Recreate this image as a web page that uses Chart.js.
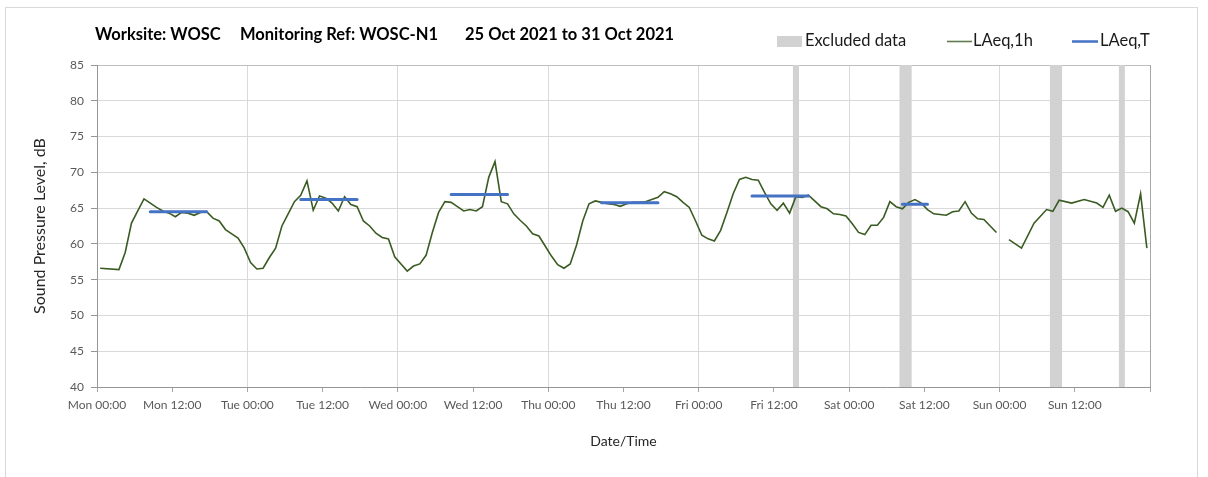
<!DOCTYPE html>
<html>
<head>
<meta charset="utf-8">
<title>WOSC-N1 noise monitoring</title>
<script src="https://cdn.jsdelivr.net/npm/chart.js@4.4.0/dist/chart.umd.min.js"></script>
<style>
  html, body { margin: 0; padding: 0; background: #fff; }
  canvas { display: block; }
</style>
</head>
<body>
<canvas id="noise" width="1208" height="477"></canvas>
<script>
// week starting Mon 25 Oct 2021, x values are hours from Mon 00:00
const dayNames = ['Mon', 'Tue', 'Wed', 'Thu', 'Fri', 'Sat', 'Sun'];

// hourly LAeq,1h (hour index, dB); null = no data for that hour
const hourIdx = [
  0, 3, 4, 5, 6, 7, 8, 9, 10, 11, 12, 13, 14, 15, 16, 17, 18, 19, 20, 21, 22, 23,
  24, 25, 26, 27, 28, 29, 30, 31, 32, 33, 34, 35, 36, 37, 38, 39, 40, 41, 42, 43, 44, 45, 46, 47,
  48, 49, 50, 51, 52, 53, 54, 55, 56, 57, 58, 59, 60, 61, 62, 63, 64, 65, 66, 67, 68, 69, 70, 71,
  72, 73, 74, 75, 76, 77, 78, 79, 80, 81, 82, 83, 84, 85, 86, 87, 88, 89, 90, 91, 92, 93, 94, 95,
  96, 97, 98, 99, 100, 101, 102, 103, 104, 105, 106, 107, 108, 109, 110, 111, 112, 113, 114, 115, 116, 117, 118, 119,
  120, 121, 122, 123, 124, 125, 126, 127, 128, 129, 130, 131, 132, 133, 134, 135, 136, 137, 138, 139, 140, 141, 142, 143,
  144, 145, 147, 149, 151, 152, 153, 155, 157, 159, 160, 161, 162, 163, 164, 165, 166, 167
];
const laeq1h = [
  56.6, 56.4, 58.8, 62.9, 64.6, 66.3, 65.7, 65.1, 64.6, 64.3, 63.8, 64.4, 64.3, 64.0, 64.4, 64.5, 63.6, 63.2, 62.0, 61.4, 60.8, 59.4,
  57.4, 56.5, 56.6, 58.1, 59.4, 62.5, 64.2, 65.9, 66.8, 68.8, 64.7, 66.7, 66.4, 65.7, 64.6, 66.6, 65.5, 65.2, 63.2, 62.5, 61.5, 60.9, 60.7, 58.2,
  57.2, 56.2, 56.9, 57.2, 58.4, 61.6, 64.4, 65.9, 65.8, 65.2, 64.6, 64.8, 64.6, 65.2, 69.3, 71.5, 65.9, 65.6, 64.2, 63.3, 62.5, 61.4, 61.1, 59.7,
  58.3, 57.1, 56.6, 57.2, 59.8, 63.2, 65.6, 66.0, 65.8, 65.6, 65.5, 65.25, 65.6, 65.8, 65.8, 65.9, 66.2, 66.5, 67.3, 67.0, 66.6, 65.8, 65.1, 63.2,
  61.2, 60.7, 60.4, 61.9, 64.4, 67.0, 69.0, 69.3, 69.0, 68.9, 67.2, 65.6, 64.7, 65.7, 64.3, 66.6, 66.5, 66.8, 66.0, 65.2, 64.9, 64.2, 64.1, 63.9,
  62.8, 61.6, 61.3, 62.6, 62.6, 63.7, 65.9, 65.2, 64.9, 65.8, 66.2, 65.7, 64.8, 64.2, 64.1, 64.0, 64.5, 64.6, 65.9, 64.3, 63.5, 63.4, 62.5, 61.6,
  null, 60.6, 59.4, 62.9, 64.8, 64.55, 66.1, 65.7, 66.2, 65.7, 65.1, 66.8, 64.55, 65.0, 64.5, 62.9, 67.0, 59.4
];

// LAeq,T daytime periods (first and last hour index of each period)
const periodFirst = [8, 32, 56, 80, 104, 128];
const periodLast = [17, 41, 65, 89, 113, 132];
const laeqT = [64.5, 66.2, 66.9, 65.75, 66.7, 65.55];

// excluded periods, hours from Mon 00:00
const excludedFrom = [111, 128, 152, 163];
const excludedTo = [112, 130, 154, 164];

const yTicks = [40, 45, 50, 55, 60, 65, 70, 75, 80, 85];

const GREEN = '#3a5b22';
const BLUE = '#4472c4';
const GREY = '#d2d2d2';

// plotted at the middle of each hour
const hourlyPoints = hourIdx.map((h, i) => ({ x: h + 0.5, y: laeq1h[i] }));

const periodPoints = [];
periodFirst.forEach((f, i) => {
  periodPoints.push({ x: f + 0.5, y: laeqT[i] });
  periodPoints.push({ x: periodLast[i] + 0.5, y: laeqT[i] });
  periodPoints.push({ x: periodLast[i] + 0.5, y: null });
});

const excludedPoints = [];
excludedFrom.forEach((f, i) => {
  excludedPoints.push({ x: f, y: yTicks[yTicks.length - 1] });
  excludedPoints.push({ x: excludedTo[i], y: yTicks[yTicks.length - 1] });
  excludedPoints.push({ x: excludedTo[i], y: null });
});

// outer frame, heading, legend and axis titles
const chartText = {
  id: 'chartText',
  beforeDraw(chart) {
    const ctx = chart.ctx;
    ctx.save();
    ctx.strokeStyle = '#d9d9d9';
    ctx.lineWidth = 1;
    ctx.strokeRect(5.5, 7.5, 1192, 500);
    ctx.restore();
  },
  afterDraw(chart) {
    const { ctx, chartArea } = chart;
    ctx.save();
    ctx.textBaseline = 'middle';
    ctx.fillStyle = '#000';
    ctx.font = 'bold 16.5px Lato';
    ctx.fillText('Worksite: WOSC', 95, 35);
    ctx.fillText('Monitoring Ref: WOSC-N1', 240, 35);
    ctx.fillText('25 Oct 2021 to 31 Oct 2021', 465, 35);

    // legend
    ctx.font = '16.5px Lato';
    ctx.fillStyle = GREY;
    ctx.fillRect(777, 36, 25, 11);
    ctx.fillStyle = '#1a1a1a';
    ctx.fillText('Excluded data', 805, 41);

    ctx.strokeStyle = GREEN;
    ctx.globalAlpha = 0.8;
    ctx.lineWidth = 1.6;
    ctx.beginPath();
    ctx.moveTo(947, 41.5);
    ctx.lineTo(972, 41.5);
    ctx.stroke();
    ctx.globalAlpha = 1;
    ctx.fillText('LAeq,1h', 973, 41);

    ctx.strokeStyle = BLUE;
    ctx.lineWidth = 2.5;
    ctx.beginPath();
    ctx.moveTo(1072, 41.5);
    ctx.lineTo(1098, 41.5);
    ctx.stroke();
    ctx.fillText('LAeq,T', 1100, 41);

    // axis titles
    ctx.fillStyle = '#262626';
    ctx.font = '14px Lato';
    ctx.textAlign = 'center';
    ctx.fillText('Date/Time', (chartArea.left + chartArea.right) / 2, 441);
    ctx.font = '16px Lato';
    ctx.translate(40, (chartArea.top + chartArea.bottom) / 2);
    ctx.rotate(-Math.PI / 2);
    ctx.fillText('Sound Pressure Level, dB', 0, 0);
    ctx.restore();
  }
};

Chart.defaults.font.family = 'Lato';

const noiseCtx = document.getElementById('noise');
window.noiseChart = new Chart(noiseCtx, {
  type: 'line',
  data: {
    datasets: [
      {
        label: 'LAeq,T',
        data: periodPoints,
        borderColor: BLUE,
        borderWidth: 3,
        borderCapStyle: 'round',
        pointRadius: 0,
        spanGaps: false,
        order: 1,
      },
      {
        label: 'LAeq,1h',
        data: hourlyPoints,
        borderColor: GREEN,
        borderWidth: 1.6,
        pointRadius: 0,
        tension: 0,
        spanGaps: false,
        order: 2,
      },
      {
        label: 'Excluded data',
        data: excludedPoints,
        borderWidth: 0,
        backgroundColor: GREY,
        pointRadius: 0,
        fill: 'start',
        spanGaps: false,
        order: 3,
      },
    ],
  },
  options: {
    responsive: false,
    animation: false,
    layout: { padding: { left: 0, top: 65, right: 58, bottom: 0 } },
    plugins: {
      legend: { display: false },
      tooltip: { enabled: false },
    },
    scales: {
      x: {
        type: 'linear',
        min: 0,
        max: 168,
        afterFit(scale) { scale.height = 90; },
        ticks: {
          stepSize: 12,
          autoSkip: false,
          maxRotation: 0,
          padding: 6,
          color: '#595959',
          font: { size: 12 },
          callback(v) {
            if (v >= 168) return '';
            return dayNames[Math.floor(v / 24)] + (v % 24 === 0 ? ' 00:00' : ' 12:00');
          },
        },
        grid: {
          color: c => {
            if (!c.tick || c.tick.value % 24 !== 0) return 'rgba(0,0,0,0)';
            return c.tick.value === 168 ? '#a6a6a6' : '#d9d9d9';
          },
          tickColor: '#a6a6a6',
          tickLength: 5,
        },
        border: { color: '#969696' },
      },
      y: {
        min: 40,
        max: 85,
        afterFit(scale) { scale.width = 97; },
        afterBuildTicks(scale) { scale.ticks = yTicks.map(v => ({ value: v })); },
        ticks: {
          padding: 7,
          color: '#595959',
          font: { size: 12 },
        },
        grid: {
          color: c => (c.tick && c.tick.value === 85 ? '#bfbfbf' : '#d9d9d9'),
          tickColor: '#969696',
          tickLength: 6,
        },
        border: { color: '#969696' },
      },
    },
  },
  plugins: [chartText],
});
</script>
</body>
</html>
